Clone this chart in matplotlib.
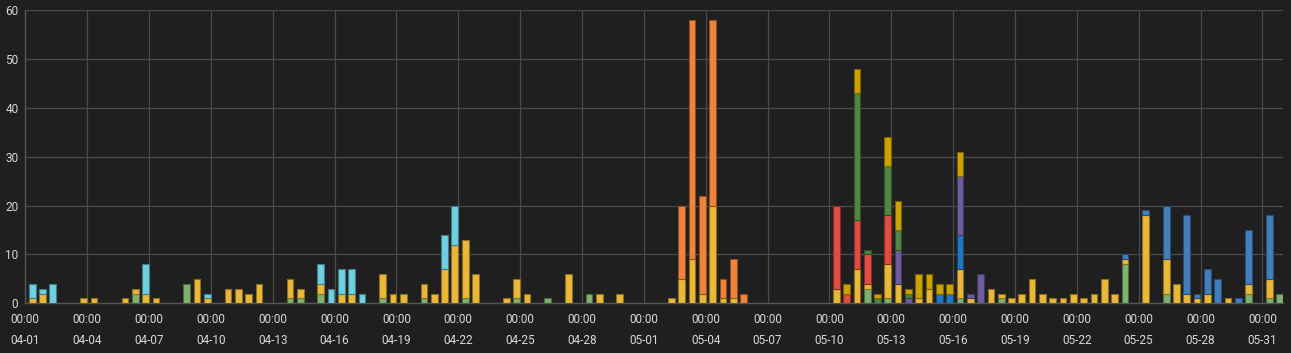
import numpy as np
import pandas as pd
import matplotlib
matplotlib.use('Agg')
import matplotlib.pyplot as plt
from matplotlib.colors import to_rgb

plt.rcParams['font.family'] = ['Roboto', 'DejaVu Sans']

# 12-hour buckets starting 2021-04-01 08:00, index -> count
n_slots = 122

light_green = {10: 2, 15: 4, 25: 1, 26: 1, 28: 2, 34: 1, 38: 1, 42: 1, 47: 1, 50: 1,
               54: 2, 81: 3, 83: 1, 90: 1, 94: 1, 106: 8, 110: 2, 118: 2, 120: 1, 121: 2}
yellow = {0: 1, 1: 2, 5: 1, 6: 1, 9: 1, 10: 1, 11: 2, 12: 1, 16: 5, 17: 1, 19: 3, 20: 3,
          21: 2, 22: 4, 25: 4, 26: 2, 28: 2, 30: 2, 31: 2, 34: 5, 35: 2, 36: 2, 38: 3,
          39: 2, 40: 7, 41: 12, 42: 12, 43: 6, 46: 1, 47: 4, 48: 2, 52: 6, 55: 2, 57: 2,
          62: 1, 63: 5, 64: 9, 65: 2, 66: 20, 67: 1, 68: 1, 78: 3, 80: 7, 81: 1, 83: 7,
          84: 4, 86: 1, 87: 3, 90: 6, 91: 1, 93: 3, 94: 1, 95: 1, 96: 2, 97: 5, 98: 2,
          99: 1, 100: 1, 101: 2, 102: 1, 103: 2, 104: 5, 105: 2, 106: 1, 108: 18,
          110: 7, 111: 4, 112: 2, 113: 1, 114: 2, 116: 1, 118: 2, 120: 4}
cyan = {0: 3, 1: 1, 2: 4, 11: 6, 17: 1, 28: 4, 29: 3, 30: 5, 31: 5, 32: 2, 40: 7, 41: 8}
orange = {63: 15, 64: 49, 65: 20, 66: 38, 67: 4, 68: 8, 69: 2}
red = {78: 17, 79: 2, 80: 10, 81: 6, 83: 10}
blue = {88: 2, 89: 2, 90: 7}
violet = {84: 7, 85: 1, 90: 12, 91: 1, 92: 6}
dark_green = {80: 26, 81: 1, 82: 1, 83: 10, 84: 4, 85: 1}
gold = {79: 2, 80: 5, 82: 1, 83: 6, 84: 6, 85: 1, 86: 5, 87: 3, 88: 2, 89: 2, 90: 5}
steel_blue = {106: 1, 108: 1, 110: 11, 112: 16, 113: 1, 114: 5, 115: 5, 117: 1,
              118: 11, 120: 13}

series = [light_green, yellow, cyan, orange, red, blue, violet, dark_green, gold, steel_blue]
colors = ['#7EB26D', '#EAB839', '#6ED0E0', '#EF843C', '#E24D42', '#1F78C1',
          '#705DA0', '#508642', '#CCA300', '#447EBC']

start = pd.Timestamp('2021-04-01')
tick_days = np.arange(0, 61, 3)
tick_labels = [(start + pd.Timedelta(days=int(d))).strftime('%H:%M\n%m-%d') for d in tick_days]

bg = '#1f1f20'
fg = '#d8d9da'

fig = plt.figure(figsize=(12.91, 3.53), dpi=100, facecolor=bg)
ax = fig.add_axes([0.0196, 0.1408, 0.9742, 0.8309], facecolor=bg)

x = 1 / 3 + np.arange(n_slots) * 0.5
bottom = np.zeros(n_slots)
for s, c in zip(series, colors):
    vals = np.zeros(n_slots)
    for k, v in s.items():
        vals[k] = v
    edge = tuple(np.array(to_rgb(c)) * 0.6)
    mask = vals > 0
    ax.bar(x[mask], vals[mask], width=0.325, bottom=bottom[mask], color=c,
           edgecolor=edge, linewidth=0.8, zorder=3)
    bottom += vals

ax.set_xlim(0, 61)
ax.set_ylim(0, 60)
ax.set_yticks(range(0, 61, 10))
ax.set_xticks(tick_days)
ax.set_xticklabels(tick_labels, linespacing=1.8)
ax.grid(True, color='#4a4a4a', linewidth=0.9, zorder=0)
ax.tick_params(axis='both', length=0, colors=fg, labelsize=8.5)
ax.tick_params(axis='x', pad=7)
ax.tick_params(axis='y', pad=5)
for side in ['top', 'right']:
    ax.spines[side].set_visible(False)
for side in ['left', 'bottom']:
    ax.spines[side].set_color('#555555')
    ax.spines[side].set_linewidth(1)

fig.savefig('out.png', dpi=100, facecolor=bg)
